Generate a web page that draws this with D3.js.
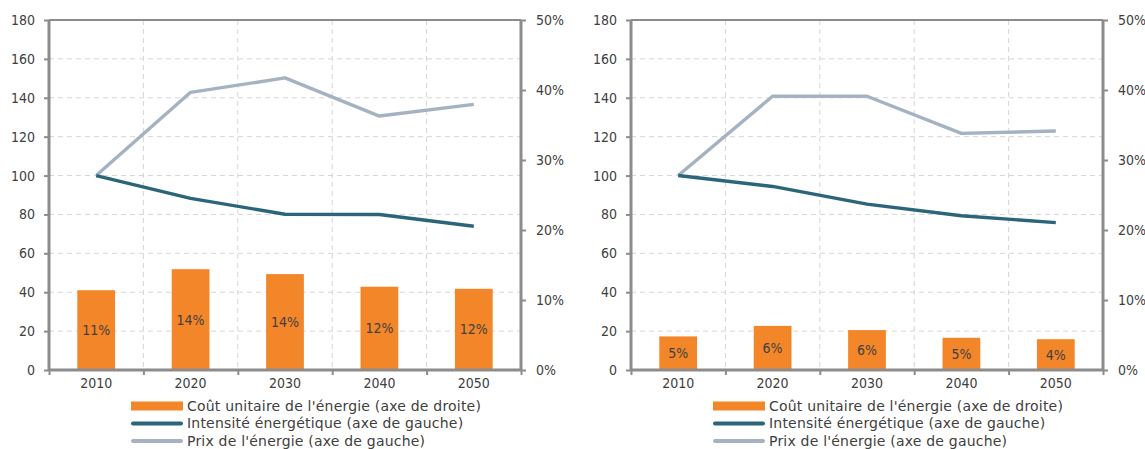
<!DOCTYPE html>
<html>
<head>
<meta charset="utf-8">
<script src="https://cdn.jsdelivr.net/npm/d3@7"></script>
<style>
  html, body { margin: 0; padding: 0; background: #fff; }
  svg { display: block; }
  text { font-family: "DejaVu Sans Condensed", "DejaVu Sans", sans-serif; fill: #404040; }
  text.legend { font-family: "DejaVu Sans", sans-serif; letter-spacing: 0.2px; }
</style>
</head>
<body>
<svg id="chart" width="1145" height="449"></svg>
<script>
const years = ["2010", "2020", "2030", "2040", "2050"];
const leftTicks = [0, 20, 40, 60, 80, 100, 120, 140, 160, 180];
const rightTicks = [0, 0.1, 0.2, 0.3, 0.4, 0.5];

// Panel 1
const costA = [0.114, 0.144, 0.137, 0.119, 0.116];
const intensityA = [100, 88.3, 80.1, 80.0, 73.9];
const priceA = [100, 142.8, 150.2, 130.6, 136.6];

// Panel 2
const costB = [0.048, 0.063, 0.057, 0.046, 0.044];
const intensityB = [100, 94.4, 85.3, 79.3, 75.8];
const priceB = [100, 140.8, 140.8, 121.7, 122.9];

const legendLabels = [
  "Coût unitaire de l'énergie (axe de droite)",
  "Intensité énergétique (axe de gauche)",
  "Prix de l'énergie (axe de gauche)"
];

const COL_BAR = "#F4862A";
const COL_INT = "#2B6579";
const COL_PRICE = "#A4B2C2";
const COL_AXIS = "#8C8C8C";
const COL_GRID = "#D6D6D6";

const svg = d3.select("#chart");

function panel(x0, x1, cost, intensity, price) {
  const top = 20, bottom = 370;
  const g = svg.append("g");
  const x = d3.scaleBand().domain(years).range([x0, x1]).paddingInner(0.6).paddingOuter(0.3);
  const xp = d3.scalePoint().domain(years).range([x0, x1]).padding(0.5);
  const yL = d3.scaleLinear().domain([0, 180]).range([bottom, top]);
  const yR = d3.scaleLinear().domain([0, 0.5]).range([bottom, top]);
  const step = x.step();

  // horizontal grid
  g.append("g").selectAll("line").data(leftTicks.filter(d => d > 0 && d < 180)).join("line")
    .attr("x1", x0).attr("x2", x1)
    .attr("y1", d => yL(d)).attr("y2", d => yL(d))
    .attr("stroke", COL_GRID).attr("stroke-width", 1).attr("stroke-dasharray", "5,4");
  // vertical grid at category boundaries
  const bounds = d3.range(1, years.length).map(i => x0 + i * step);
  g.append("g").selectAll("line").data(bounds).join("line")
    .attr("x1", d => d).attr("x2", d => d)
    .attr("y1", top).attr("y2", bottom)
    .attr("stroke", COL_GRID).attr("stroke-width", 1).attr("stroke-dasharray", "5,4");

  // bars
  g.append("g").selectAll("rect").data(cost).join("rect")
    .attr("x", (d, i) => x(years[i]))
    .attr("width", x.bandwidth())
    .attr("y", d => yR(d))
    .attr("height", d => yR(0) - yR(d))
    .attr("fill", COL_BAR);
  g.append("g").selectAll("text").data(cost).join("text")
    .attr("x", (d, i) => x(years[i]) + x.bandwidth() / 2)
    .attr("y", d => (yR(d) + yR(0)) / 2)
    .attr("dy", "0.35em")
    .attr("text-anchor", "middle")
    .style("font-size", "14px")
    .text(d => d3.format(".0%")(d));

  // lines
  const line = d3.line().x((d, i) => xp(years[i])).y(d => yL(d));
  g.append("path").datum(price).attr("d", line)
    .attr("fill", "none").attr("stroke", COL_PRICE).attr("stroke-width", 3.4).attr("stroke-linejoin", "round");
  g.append("path").datum(intensity).attr("d", line)
    .attr("fill", "none").attr("stroke", COL_INT).attr("stroke-width", 3.4).attr("stroke-linejoin", "round");

  // frame top
  g.append("line").attr("x1", x0).attr("x2", x1).attr("y1", top).attr("y2", top)
    .attr("stroke", COL_AXIS).attr("stroke-width", 2);

  // left axis
  const axL = g.append("g").attr("transform", `translate(${x0},0)`)
    .call(d3.axisLeft(yL).tickValues(leftTicks).tickSize(5).tickPadding(9));
  // right axis
  const axR = g.append("g").attr("transform", `translate(${x1},0)`)
    .call(d3.axisRight(yR).tickValues(rightTicks).tickSize(5).tickPadding(10).tickFormat(d3.format(".0%")));
  // bottom axis
  const xb = d3.scaleLinear().domain([0, years.length]).range([x0, x1]);
  const axB = g.append("g").attr("transform", `translate(0,${bottom})`)
    .call(d3.axisBottom(xb).tickValues(d3.range(0, years.length + 1)).tickSize(5).tickFormat(""));
  g.append("g").selectAll("text").data(years).join("text")
    .attr("x", d => xp(d)).attr("y", 387.5)
    .attr("text-anchor", "middle")
    .style("font-size", "14px")
    .text(d => d);

  [axL, axR, axB].forEach(a => {
    a.select(".domain").attr("stroke", COL_AXIS).attr("stroke-width", 3);
    a.selectAll(".tick line").attr("stroke", COL_AXIS).attr("stroke-width", 2);
    a.selectAll(".tick text").style("font-size", "14px").attr("fill", "#404040")
      .style("font-family", '"DejaVu Sans Condensed", "DejaVu Sans", sans-serif');
  });
  axL.select(".domain").attr("d", `M0,${top}V${bottom}`);
  axR.select(".domain").attr("d", `M0,${top}V${bottom}`);
  axB.select(".domain").attr("d", `M${x0},0H${x1}`);

  // legend
  const lx = x0 + 82, ly = [406, 423.5, 441];
  const leg = g.append("g");
  leg.append("rect").attr("x", lx).attr("y", ly[0] - 4.5).attr("width", 52).attr("height", 9).attr("fill", COL_BAR);
  [[COL_INT, 1], [COL_PRICE, 2]].forEach(([c, i]) => {
    leg.append("line").attr("x1", lx + 2).attr("x2", lx + 50).attr("y1", ly[i]).attr("y2", ly[i])
      .attr("stroke", c).attr("stroke-width", 4).attr("stroke-linecap", "round");
  });
  leg.selectAll("text").data(legendLabels).join("text")
    .attr("class", "legend")
    .attr("x", lx + 56).attr("y", (d, i) => ly[i]).attr("dy", "0.35em")
    .style("font-size", "14px").text(d => d);
}

panel(49, 521, costA, intensityA, priceA);
panel(631, 1103, costB, intensityB, priceB);
</script>
</body>
</html>
